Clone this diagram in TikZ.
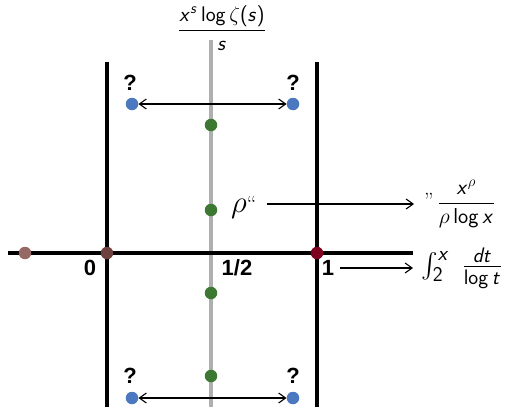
\documentclass[tikz,border=0pt]{standalone}
\usepackage{fix-cm}
\usepackage{amsmath}
\usepackage{graphicx}
\usepackage[no-math]{fontspec}
\newfontfamily\labfont{Liberation Sans}
\DeclareSymbolFont{operators}{OT1}{cmss}{m}{n}
\SetSymbolFont{operators}{bold}{OT1}{cmss}{bx}{n}
\DeclareMathAlphabet{\msl}{OT1}{cmss}{m}{sl}
\usetikzlibrary{arrows.meta}
\definecolor{zblue}{RGB}{75,120,190}
\definecolor{zgreen}{RGB}{60,120,50}
\definecolor{zbrownA}{RGB}{150,105,100}
\definecolor{zbrownB}{RGB}{110,65,62}
\definecolor{zred}{RGB}{128,0,32}
\definecolor{zgray}{RGB}{175,175,175}
\begin{document}
\begin{tikzpicture}[x=1pt,y=-1pt,
  dot/.style={circle,inner sep=0pt,minimum size=12.5pt},
  wall/.style={line width=3.5pt,black},
  crit/.style={line width=3.5pt,zgray},
  lab/.style={font=\labfont\bfseries\fontsize{22}{24}\selectfont,inner sep=0pt},
  mth/.style={font=\fontsize{17.28}{21}\selectfont,inner sep=0pt},
  arr/.style={line width=1.1pt,{Straight Barb[length=7pt,width=10pt]}-{Straight Barb[length=7pt,width=10pt]}},
  rarr/.style={line width=1.1pt,-{Straight Barb[length=7pt,width=10pt]}}]
\useasboundingbox (0,0) rectangle (505,407);
% lines
\coordinate (ctop) at (211,40);
\coordinate (cbot) at (211,407);
\coordinate (lt) at (107,62);
\coordinate (lb) at (107,407);
\coordinate (rt) at (317,62);
\coordinate (rb) at (317,407);
\coordinate (al) at (8,253);
\coordinate (ar) at (413,253);
\draw[crit] (ctop) -- (cbot);
\draw[wall] (al) -- (ar);
\draw[wall] (lt) -- (lb);
\draw[wall] (rt) -- (rb);
% dots
\node[dot,fill=zbrownA] (p1) at (25,253) {};
\node[dot,fill=zbrownB] (p0) at (107,253) {};
\node[dot,fill=zred] (pone) at (317,253) {};
\node[dot,fill=zblue] (bq1) at (132,104) {};
\node[dot,fill=zblue] (bq2) at (293,104) {};
\node[dot,fill=zblue] (bq3) at (132,398) {};
\node[dot,fill=zblue] (bq4) at (293,398) {};
\node[dot,fill=zgreen] (g1) at (211,125) {};
\node[dot,fill=zgreen] (g2) at (211,210) {};
\node[dot,fill=zgreen] (g3) at (211,293) {};
\node[dot,fill=zgreen] (g4) at (211,376) {};
% question marks
\node[lab] (q1) at (130,83) {?};
\node[lab] (q2) at (293,83) {?};
\node[lab] (q3) at (130,376) {?};
\node[lab] (q4) at (293,376) {?};
% axis labels
\node[lab] (l0) at (90,268) {0};
\node[lab] (lh) at (237,268) {1/2};
\node[lab] (l1) at (328,268) {1};
% formulas
\node[mth] (top) at (222,28) {\scalebox{1.22}{$\dfrac{\msl{x}^{\msl{s}}\log\zeta(\msl{s})}{\msl{s}}$}};
\node[inner sep=0pt,anchor=west] (rho) at (231,207)
  {\fontsize{31}{34}\selectfont$\rho$\fontsize{22}{24}\selectfont\raisebox{1pt}{``}};
\node[mth,anchor=west] (rf) at (424,204) {\fontsize{22}{24}\selectfont''\,\fontsize{17.28}{21}\selectfont\scalebox{1.25}{$\dfrac{\msl{x}^\rho}{\rho\log \msl{x}}$}};
\node[inner sep=0pt,font=\fontsize{30}{34}\selectfont,anchor=west] (li) at (421,268) {$\int_2^{\msl{x}}\;\frac{\msl{dt}}{\log \msl{t}}$};
% connectors
\draw[arr] (bq1) -- (bq2);
\draw[arr] (bq3) -- (bq4);
\draw[rarr,shorten <=10pt,shorten >=10pt] (rho.east |- rf.west) -- (rf.west);
\draw[rarr,shorten <=6pt,shorten >=8pt] (l1.east) -- (l1.east -| li.west);
\end{tikzpicture}
\end{document}
